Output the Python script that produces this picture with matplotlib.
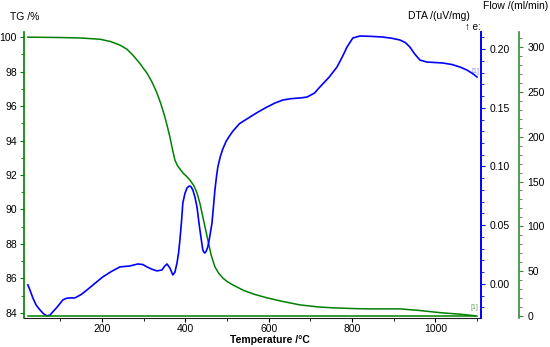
import matplotlib
matplotlib.use("Agg")
import matplotlib.pyplot as plt
from matplotlib.ticker import MultipleLocator

plt.rcParams['font.family'] = ['Liberation Sans', 'DejaVu Sans']

# TG data (temperature degC, mass %)
tg_t = [22, 99, 150, 195, 220, 243, 260, 274, 290, 308, 320, 332, 341, 351, 357, 363,
        369, 375, 381, 387, 395, 403, 411, 420, 428, 435, 442, 448, 454, 462, 471, 480,
        490, 500, 514, 540, 565, 596, 630, 675, 720, 754, 800, 836, 915, 960, 1016,
        1060, 1095]
tg_v = [100.0, 99.98, 99.95, 99.88, 99.75, 99.54, 99.30, 98.96, 98.50, 97.91, 97.40,
        96.75, 96.15, 95.36, 94.80, 94.20, 93.50, 92.87, 92.55, 92.35, 92.10, 91.92,
        91.71, 91.40, 90.96, 90.35, 89.57, 88.90, 88.23, 87.35, 86.67, 86.30, 86.02,
        85.82, 85.62, 85.30, 85.08, 84.87, 84.68, 84.46, 84.34, 84.29, 84.25, 84.23,
        84.23, 84.14, 84.00, 83.92, 83.83]

# DTA data (temperature degC, uV/mg)
dta_t = [22, 28, 34, 42, 51, 60, 68, 75, 82, 94, 106, 115, 123, 135, 150, 164, 183,
         202, 222, 243, 267, 286, 298, 308, 320, 332, 344, 350, 356, 363, 370, 375,
         380, 384, 387, 391, 394, 399, 404, 408, 411, 414, 418, 423, 428, 432, 435,
         439, 442, 445, 447, 450, 454, 459, 464, 468, 471, 475, 478, 484, 490, 498,
         507, 514, 530, 555, 575, 596, 615, 634, 655, 675, 692, 710, 723, 745, 764,
         777, 788, 802, 819, 845, 874, 895, 915, 928, 939, 950, 963, 980, 1000, 1018,
         1040, 1059, 1076, 1090, 1100]
dta_v = [-0.0008, -0.0060, -0.0119, -0.0180, -0.0221, -0.0255, -0.0272, -0.0265,
         -0.0238, -0.0190, -0.0136, -0.0122, -0.0119, -0.0119, -0.0090, -0.0051,
         0.0005, 0.0060, 0.0105, 0.0145, 0.0153, 0.0170, 0.0165, 0.0145, 0.0125,
         0.0111, 0.0119, 0.0150, 0.0170, 0.0135, 0.0077, 0.0100, 0.0179, 0.0270,
         0.0375, 0.0540, 0.0689, 0.0770, 0.0817, 0.0830, 0.0834, 0.0825, 0.0800,
         0.0740, 0.0655, 0.0540, 0.0460, 0.0360, 0.0289, 0.0268, 0.0264, 0.0278,
         0.0315, 0.0410, 0.0519, 0.0680, 0.0800, 0.0920, 0.0996, 0.1085, 0.1150,
         0.1215, 0.1265, 0.1300, 0.1365, 0.1421, 0.1465, 0.1506, 0.1540, 0.1566,
         0.1578, 0.1583, 0.1591, 0.1625, 0.1677, 0.1760, 0.1847, 0.1935, 0.2017,
         0.2094, 0.2111, 0.2108, 0.2102, 0.2092, 0.2077, 0.2055, 0.2017, 0.1960,
         0.1906, 0.1889, 0.1885, 0.1881, 0.1868, 0.1847, 0.1821, 0.1790, 0.1762]

# Flow data (temperature degC, ml/min)
flow_t = [22, 1100]
flow_v = [0, 0]

GREEN = '#008000'
BLUE = '#0000ff'
FLOWG = '#3a8a3a'

fig = plt.figure(figsize=(5.5, 3.47), dpi=100)
ax = fig.add_axes([24/550, 1-318/347, (481-24)/550, (318-32)/347])
ax2 = ax.twinx()
ax3 = ax.twinx()

ax.plot(tg_t, tg_v, color=GREEN, lw=1.1, zorder=3)
ax2.plot(dta_t, dta_v, color=BLUE, lw=1.2, zorder=4)
ax3.plot(flow_t, flow_v, color=GREEN, lw=1.1, zorder=2)

ax.set_xlim(12.8, 1109.6)
ax.set_ylim(83.7, 100.3)
ax2.set_ylim(-0.029, 0.2145)
ax3.set_ylim(-2.2, 316.7)

for s in ['top', 'right']:
    ax.spines[s].set_visible(False)
ax.spines['left'].set_color(GREEN)
ax.spines['left'].set_linewidth(1.2)
ax.spines['bottom'].set_color('#222222')

for s in ['top', 'left', 'bottom']:
    ax2.spines[s].set_visible(False)
    ax3.spines[s].set_visible(False)
ax2.spines['right'].set_color(BLUE)
ax2.spines['right'].set_linewidth(1.4)
ax3.spines['right'].set_position(('axes', (519-24)/(481-24)))
ax3.spines['right'].set_color(FLOWG)
ax3.spines['right'].set_linewidth(1.2)

ax.xaxis.set_major_locator(MultipleLocator(200))
ax.xaxis.set_minor_locator(MultipleLocator(100))
ax.yaxis.set_major_locator(MultipleLocator(2))
ax.yaxis.set_minor_locator(MultipleLocator(1))
ax2.yaxis.set_major_locator(MultipleLocator(0.05))
ax2.yaxis.set_minor_locator(MultipleLocator(0.01))
ax3.yaxis.set_major_locator(MultipleLocator(50))
ax3.yaxis.set_minor_locator(MultipleLocator(10))

ax.tick_params(axis='x', which='major', length=3, labelsize=7.5, pad=1.5)
ax.tick_params(axis='x', which='minor', length=2)
ax.tick_params(axis='y', which='major', length=3, color=GREEN, labelsize=7.5, pad=2)
ax.tick_params(axis='y', which='minor', length=2, color=GREEN)
ax2.tick_params(axis='y', which='major', length=3, color=BLUE, labelsize=7.5, pad=3)
ax2.tick_params(axis='y', which='minor', length=2, color=BLUE)
ax3.tick_params(axis='y', which='major', length=3, color=FLOWG, labelsize=7.5, pad=3)
ax3.tick_params(axis='y', which='minor', length=2, color=FLOWG)

ax2.yaxis.set_major_formatter(matplotlib.ticker.FormatStrFormatter('%.2f'))

fig.text(10/550, 1-17/347, 'TG /%', fontsize=7.5, ha='left', va='center')
fig.text(470/550, 1-16/347, 'DTA /(uV/mg)', fontsize=7.5, ha='right', va='center')
fig.text(481/550, 1-27/347, '\u2191 e:', fontsize=7, ha='right', va='center')
fig.text(548/550, 1-6/347, 'Flow /(ml/min)', fontsize=7.5, ha='right', va='center')
fig.text(270/550, 1-340/347, 'Temperature /\u00b0C', fontsize=7.5, ha='center',
         va='center', fontweight='bold')

ax2.annotate('[1]', (dta_t[-1], dta_v[-1]), xytext=(-1, 4), textcoords='offset points',
             fontsize=5, color='#8888ff', ha='center', va='center')
ax.annotate('[1]', (tg_t[-1], tg_v[-1]), xytext=(0, 6), textcoords='offset points',
            fontsize=5, color='#66aa66', ha='center', va='center')

fig.savefig('out.png', dpi=100)
